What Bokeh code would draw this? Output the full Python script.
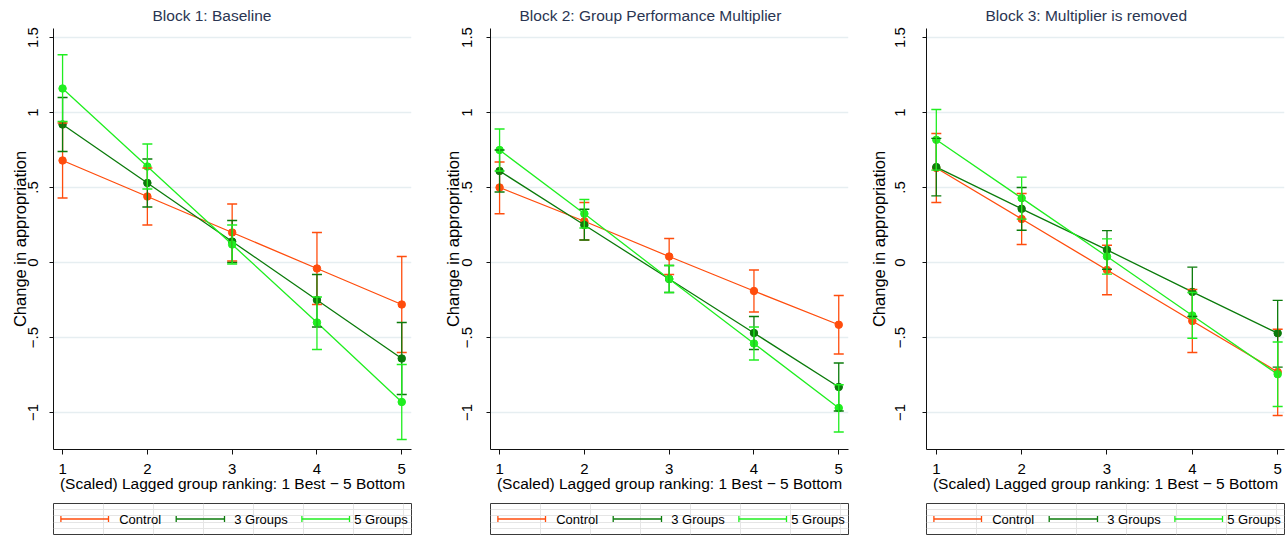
from bokeh.plotting import figure
from bokeh.models import Range1d, Whisker, ColumnDataSource, TeeHead
from bokeh.layouts import row, column
from bokeh.embed import file_html
from bokeh.resources import INLINE
from bokeh.core.properties import value

# ---------------- data ----------------
ranks = [1, 2, 3, 4, 5]
x_tick_labels = ["1", "2", "3", "4", "5"]
y_ticks = [-1, -0.5, 0, 0.5, 1, 1.5]
y_tick_labels = ["\u22121", "\u2212.5", "0", ".5", "1", "1.5"]
series_names = ["Control", "3 Groups", "5 Groups"]
panel_titles = ["Block 1: Baseline",
                "Block 2: Group Performance Multiplier",
                "Block 3: Multiplier is removed"]
x_axis_title = "(Scaled) Lagged group ranking: 1 Best \u2212 5 Bottom"
y_axis_title = "Change in appropriation"

# Block 1
b1_control = [0.68, 0.44, 0.20, -0.04, -0.28]
b1_control_lo = [0.43, 0.25, 0.01, -0.28, -0.60]
b1_control_hi = [0.93, 0.63, 0.39, 0.20, 0.04]
b1_g3 = [0.92, 0.53, 0.14, -0.25, -0.64]
b1_g3_lo = [0.74, 0.37, 0.00, -0.43, -0.88]
b1_g3_hi = [1.10, 0.69, 0.28, -0.08, -0.40]
b1_g5 = [1.16, 0.64, 0.12, -0.40, -0.93]
b1_g5_lo = [0.94, 0.49, -0.01, -0.58, -1.18]
b1_g5_hi = [1.385, 0.79, 0.25, -0.23, -0.68]

# Block 2
b2_control = [0.50, 0.275, 0.04, -0.19, -0.415]
b2_control_lo = [0.325, 0.15, -0.08, -0.33, -0.61]
b2_control_hi = [0.67, 0.40, 0.16, -0.05, -0.22]
b2_g3 = [0.61, 0.25, -0.11, -0.47, -0.83]
b2_g3_lo = [0.47, 0.15, -0.20, -0.58, -0.99]
b2_g3_hi = [0.75, 0.355, -0.02, -0.36, -0.67]
b2_g5 = [0.75, 0.325, -0.11, -0.54, -0.97]
b2_g5_lo = [0.61, 0.23, -0.20, -0.65, -1.13]
b2_g5_hi = [0.89, 0.42, -0.02, -0.43, -0.815]

# Block 3
b3_control = [0.63, 0.29, -0.05, -0.39, -0.73]
b3_control_lo = [0.40, 0.12, -0.215, -0.60, -1.02]
b3_control_hi = [0.86, 0.46, 0.115, -0.18, -0.445]
b3_g3 = [0.636, 0.358, 0.084, -0.196, -0.471]
b3_g3_lo = [0.444, 0.215, -0.045, -0.36, -0.698]
b3_g3_hi = [0.827, 0.50, 0.213, -0.031, -0.253]
b3_g5 = [0.818, 0.429, 0.04, -0.353, -0.745]
b3_g5_lo = [0.616, 0.289, -0.078, -0.505, -0.96]
b3_g5_hi = [1.02, 0.569, 0.158, -0.20, -0.53]

# ---------------- style ----------------
FONT = "Liberation Sans"
COLORS = ["#ff4d0d", "#0b7b0b", "#20ee20"]
TITLE_COLOR = "#2a3552"
GRID_COLOR = "#e6eef1"
Y_RANGE = (-1.2467, 1.56)

panels = [
    dict(title=panel_titles[0], w=426, bl=49, br=10, xr=(0.893, 5.115),
         title_off=99, tick_standoff=11, label_standoff=-3,
         series=[(b1_control, b1_control_lo, b1_control_hi),
                 (b1_g3, b1_g3_lo, b1_g3_hi),
                 (b1_g5, b1_g5_lo, b1_g5_hi)],
         leg_left=53, leg_w=358),
    dict(title=panel_titles[1], w=431, bl=58, br=4, xr=(0.893, 5.115),
         title_off=29, tick_standoff=14, label_standoff=-2,
         series=[(b2_control, b2_control_lo, b2_control_hi),
                 (b2_g3, b2_g3_lo, b2_g3_hi),
                 (b2_g5, b2_g5_lo, b2_g5_hi)],
         leg_left=64, leg_w=358),
    dict(title=panel_titles[2], w=429, bl=64, br=0, xr=(0.885, 5.08),
         title_off=59, tick_standoff=17, label_standoff=5,
         series=[(b3_control, b3_control_lo, b3_control_hi),
                 (b3_g3, b3_g3_lo, b3_g3_hi),
                 (b3_g5, b3_g5_lo, b3_g5_hi)],
         leg_left=69, leg_w=358),
]

leg_sym_x0 = [7.4, 122.7, 248.4]
leg_sym_x1 = [55.0, 171.0, 296.0]
leg_text_x = [65.7, 180.7, 300.7]

MAIN_H = 500
LEG_H = 36
TOP = 28
FRAME_H = 421


def make_panel(cfg):
    p = figure(width=cfg["w"], height=MAIN_H,
               x_range=Range1d(*cfg["xr"]), y_range=Range1d(*Y_RANGE),
               output_backend="svg", toolbar_location=None,
               min_border_left=cfg["bl"], min_border_right=cfg["br"],
               min_border_top=TOP, min_border_bottom=MAIN_H - TOP - FRAME_H)
    p.outline_line_color = None
    p.background_fill_color = "white"
    p.border_fill_color = "white"
    p.xgrid.visible = False
    p.ygrid.grid_line_color = GRID_COLOR
    p.ygrid.grid_line_width = 1.5

    # title, centred on the whole panel graph (as Stata does)
    p.title.text = cfg["title"]
    p.title.align = "left"
    p.title.offset = cfg["title_off"]
    p.title.standoff = 6
    p.title.vertical_align = "top"
    p.title.text_font = FONT
    p.title.text_font_size = "15.5px"
    p.title.text_font_style = "normal"
    p.title.text_color = TITLE_COLOR

    # axes
    p.xaxis.ticker = ranks
    p.xaxis.major_label_overrides = dict(zip(ranks, x_tick_labels))
    p.yaxis.ticker = y_ticks
    p.yaxis.major_label_overrides = dict(zip(y_ticks, y_tick_labels))
    for ax in (p.xaxis[0], p.yaxis[0]):
        ax.axis_line_color = "#111111"
        ax.axis_line_width = 1
        ax.major_tick_line_color = "#111111"
        ax.major_tick_in = 0
        ax.minor_tick_line_color = None
        ax.major_label_text_font = FONT
        ax.major_label_text_color = "black"
        ax.axis_label_text_font = FONT
        ax.axis_label_text_font_style = "normal"
        ax.axis_label_text_color = "black"
    p.xaxis.major_tick_out = 5
    p.xaxis.major_label_standoff = 9
    p.xaxis.major_label_text_font_size = "15px"
    p.xaxis.axis_label = x_axis_title
    p.xaxis.axis_label_text_font_size = "15.5px"
    p.xaxis.axis_label_standoff = -2

    p.yaxis.major_tick_out = 4
    p.yaxis.major_label_standoff = cfg["tick_standoff"]
    p.yaxis.major_label_orientation = "vertical"
    p.yaxis.major_label_text_font_size = "15px"
    p.yaxis.axis_label = y_axis_title
    p.yaxis.axis_label_text_font_size = "16.5px"
    p.yaxis.axis_label_standoff = cfg["label_standoff"]

    # error bars first, then lines and markers
    for (mean, lo, hi), c in zip(cfg["series"], COLORS):
        src = ColumnDataSource(dict(x=ranks, lo=lo, hi=hi))
        w = Whisker(base="x", lower="lo", upper="hi", source=src,
                    line_color=c, line_width=1.3, level="glyph",
                    upper_head=TeeHead(size=10, line_color=c, line_width=1.3),
                    lower_head=TeeHead(size=10, line_color=c, line_width=1.3))
        p.add_layout(w)
    for (mean, lo, hi), c in zip(cfg["series"], COLORS):
        p.line(ranks, mean, line_color=c, line_width=1.3)
        p.scatter(ranks, mean, marker="circle", size=7.5,
                  fill_color=c, line_color=c)

    # legend box below
    lw = cfg["leg_w"]
    lg = figure(width=cfg["w"], height=LEG_H,
                x_range=Range1d(0, lw), y_range=Range1d(0, 1),
                x_axis_location=None, y_axis_location=None,
                output_backend="svg", toolbar_location=None,
                min_border_left=cfg["leg_left"],
                min_border_right=cfg["w"] - cfg["leg_left"] - lw,
                min_border_top=3, min_border_bottom=2)
    lg.outline_line_color = "#3a3a3a"
    lg.outline_line_width = 1
    lg.background_fill_color = "white"
    lg.border_fill_color = "white"
    ymid = [0.5] * 3
    lg.segment(x0=leg_sym_x0, y0=ymid, x1=leg_sym_x1, y1=ymid,
               line_color=COLORS, line_width=1.3)
    lg.segment(x0=leg_sym_x0 + leg_sym_x1, y0=[0.4] * 6,
               x1=leg_sym_x0 + leg_sym_x1, y1=[0.6] * 6,
               line_color=COLORS + COLORS, line_width=1.3)
    lg.text(x=leg_text_x, y=ymid, text=series_names,
            text_font=value(FONT), text_font_size="13px",
            text_baseline="middle", text_align="left", text_color="black")
    return column(p, lg, spacing=0)


layout = row(*[make_panel(c) for c in panels], spacing=0)
open("out.html", "w").write(file_html(layout, INLINE))
